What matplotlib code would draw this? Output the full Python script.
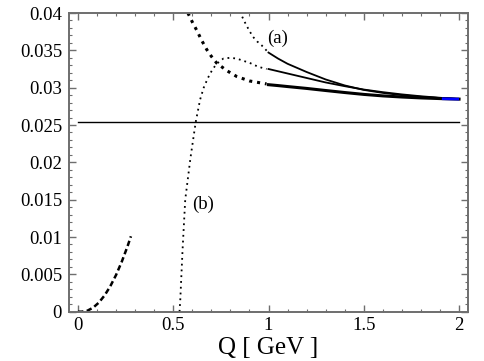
import matplotlib
matplotlib.use("Agg")
import matplotlib.pyplot as plt
from matplotlib.ticker import MultipleLocator

plt.rcParams["font.family"] = ["Liberation Serif", "DejaVu Serif"]

# lower-left dashed curve
q_low = [0.0, 0.02, 0.05, 0.08, 0.11, 0.14, 0.17, 0.20, 0.23, 0.26, 0.278]
v_low = [0.0, 0.0, 0.00014, 0.00055, 0.00123, 0.00219, 0.00342, 0.00492,
         0.00670, 0.00874, 0.0101]

# curve (b): dotted below Q=1, solid above
q_b_dot = [0.533, 0.537, 0.549, 0.563, 0.59, 0.618, 0.641, 0.66, 0.682, 0.705,
           0.728, 0.763, 0.798, 0.833, 0.868, 0.903, 0.946, 0.99]
v_b_dot = [0.0, 0.0016, 0.0083, 0.0150, 0.0205, 0.0254, 0.0284, 0.0300, 0.0313,
           0.0324, 0.0332, 0.0339, 0.0340, 0.0339, 0.0336, 0.0333, 0.0328, 0.0325]

# thick curve: dotted below Q=1, solid above
q_t_dot = [0.577, 0.60, 0.623, 0.65, 0.676, 0.70, 0.728, 0.78, 0.833, 0.90, 0.99]
v_t_dot = [0.0400, 0.0388, 0.0377, 0.0363, 0.0351, 0.0342, 0.0333, 0.0323,
           0.0315, 0.0309, 0.0305]

# curve (a): dotted below Q=1, solid above
q_a_dot = [0.849, 0.875, 0.90, 0.919, 0.94, 0.963, 0.985, 1.0]
v_a_dot = [0.0402, 0.0388, 0.0376, 0.0368, 0.0362, 0.0357, 0.0351, 0.0347]

q_sol = [1.0, 1.05, 1.1, 1.2, 1.3, 1.4, 1.5, 1.6, 1.7, 1.8, 1.9, 2.0]
v_a_sol = [0.0347, 0.0339, 0.0332, 0.0321, 0.0311, 0.0303, 0.0297, 0.0293,
           0.0290, 0.02878, 0.02861, 0.02847]
v_b_sol = [0.0325, 0.0322, 0.0319, 0.0313, 0.0307, 0.0302, 0.02975, 0.0294,
           0.0291, 0.02885, 0.02865, 0.02847]
v_t_sol = [0.0304, 0.03028, 0.03015, 0.0299, 0.02962, 0.02935, 0.0291, 0.0289,
           0.02875, 0.02863, 0.02854, 0.02847]

q_blue = [1.91, 2.0]
v_blue = [0.02852, 0.02847]

q_hline = [0.0, 2.0]
v_hline = [0.0254, 0.0254]

fig = plt.figure(figsize=(4.84, 3.61), dpi=100)
ax = fig.add_axes([69 / 484, 1 - 311.7 / 361, 399 / 484, 298.7 / 361])

ax.plot(q_hline, v_hline, color="black", lw=1.0)
ax.plot(q_low, v_low, color="black", lw=1.8, ls=(0, (2.2, 1.3)))
ax.plot(q_b_dot, v_b_dot, color="black", lw=1.3, ls=(0, (1, 2.2)))
ax.plot(q_t_dot, v_t_dot, color="black", lw=2.2, ls=(0, (1, 1.6)))
ax.plot(q_a_dot, v_a_dot, color="black", lw=1.3, ls=(0, (1, 2.2)))
ax.plot(q_sol, v_a_sol, color="black", lw=1.3)
ax.plot(q_sol, v_b_sol, color="black", lw=1.3)
ax.plot(q_sol, v_t_sol, color="black", lw=2.2)
ax.plot(q_blue, v_blue, color="blue", lw=2.0, solid_capstyle="butt")

ax.text(1.047, 0.03665, "(a)", fontsize=13.5, ha="center", va="center")
ax.text(0.654, 0.01442, "(b)", fontsize=13.5, ha="center", va="center")

ax.set_xlim(-0.047, 2.047)
ax.set_ylim(0, 0.04)
ax.xaxis.set_minor_locator(MultipleLocator(0.1))
ax.yaxis.set_minor_locator(MultipleLocator(0.001))
ax.set_xticks([0, 0.5, 1, 1.5, 2])
ax.set_xticklabels(["0", "0.5", "1", "1.5", "2"])
ax.set_yticks([0, 0.005, 0.01, 0.015, 0.02, 0.025, 0.03, 0.035, 0.04])
ax.set_yticklabels(["0", "0.005", "0.01", "0.015", "0.02", "0.025", "0.03",
                    "0.035", "0.04"])

frame = "#6e6e6e"
for s in ax.spines.values():
    s.set_color(frame)
    s.set_linewidth(1.4)
ax.tick_params(which="both", direction="in", top=True, right=True,
               color=frame, labelsize=13.5, labelcolor="black")
ax.tick_params(which="major", length=5, width=1.0)
ax.tick_params(which="minor", length=2.5, width=0.8)
ax.tick_params(axis="y", pad=5)
ax.tick_params(axis="x", pad=4)

ax.set_xlabel("Q [ GeV ]", fontsize=18, labelpad=2)

fig.savefig("out.png", dpi=100)
